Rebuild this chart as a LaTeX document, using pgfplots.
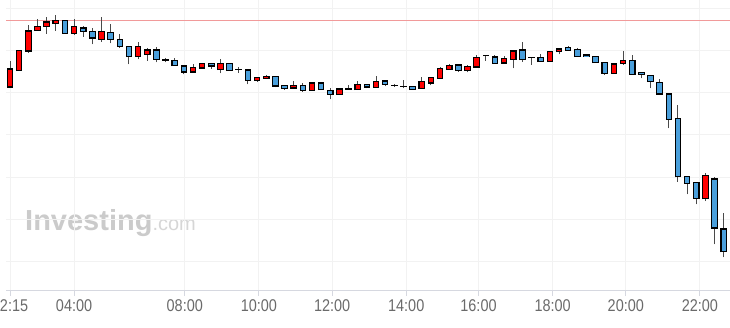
\documentclass[border=0pt]{standalone}
\usepackage{fontspec}
\setmainfont{Liberation Sans}
\newfontfamily\tickfont[FakeStretch=0.85]{Liberation Sans}
\usepackage{pgfplots}
\usepackage{pgfplotstable}
\pgfplotsset{compat=1.18}
\definecolor{upred}{HTML}{FF0000}
\definecolor{downblue}{HTML}{4A9FDB}
\definecolor{wick}{HTML}{4A4A4A}
\definecolor{refline}{HTML}{F19A9A}
\definecolor{gridc}{HTML}{F2F2F2}
\definecolor{axisc}{HTML}{D6D8E0}
\definecolor{labc}{HTML}{6A6A6A}
\definecolor{wm}{HTML}{CBCBCB}
\definecolor{wmb}{HTML}{D6D6D6}

% k = candle index (15-minute candles), o h l c = open high low close
\pgfplotstableread{
k  o     h     l     c
0  203   229   202   221
1  219.5 239.5 219   239.5
2  239   265   237   259
3  259.5 271   259   263.5
4  263.3 273.3 256   268
5  266.7 275   259.3 269.3
7  256.7 270.7 255   263.3
10 250.7 272.7 248   258.3
14 233.3 248.3 230.7 243.3
15 235.7 241.7 229.3 240
20 218   226   218   222.3
21 222   226.3 222   226.3
23 220.3 231   216.7 226.3
27 209.7 212.3 208.3 212.3
28 211.7 215   211.7 213.7
31 202   208.7 202   204.7
33 199.7 207   199.7 207
36 195.7 201   195   201
38 200.3 209.3 200.3 205.3
40 202.7 213.7 202.7 208.7
45 201.3 212.7 201.3 208.3
46 207   212.3 204.7 212.3
47 211.7 223.3 211.7 221.7
48 220.7 225.7 220.7 224.3
50 219.7 225   217.7 223.3
51 223   235   223   232.7
54 227   233.7 227   231.7
55 230.7 240.3 221.7 239
59 228.3 238.3 228.3 238.3
60 238.3 242.3 235.7 241
66 216.7 226   216.7 226
67 226.7 239   225.3 229.3
76 91.3  116.7 89    114.7
}\up

\pgfplotstableread{
k  o     h     l     c
6  269.7 270   256   256.7
8  262   264.3 253.3 258.7
9  258.3 262   245.7 252
11 257.3 266   246.7 250.7
12 250.7 256   242   243.3
13 243.3 243.3 225.7 233.3
16 240   242.7 227.7 230.7
17 230   232   227.7 230
18 229.7 232   224   224.3
19 224   224   215.7 218
22 226.3 226.3 221.3 224
24 226.3 226.3 219.3 219.3
25 220.7 223.3 217.3 220.7
26 220   220   205.7 209.3
29 213.7 213.7 202.7 204
30 204.7 204.7 200.3 201.3
32 204.7 206.7 198.3 199.7
34 207   207   200.3 200.3
35 199.7 201.7 190.7 195.7
37 201   205   201   201
39 205.7 205.7 201.7 203
41 209   209   203.7 205.7
42 204.7 206.3 203   204.7
43 203.7 210.3 201.7 203.7
44 203.3 204   200.3 200.3
49 225   225   218.3 219.3
52 234.5 235   229   234.5
53 233   235   226.7 226.7
56 240   247.7 228.3 230.3
57 232.3 232.7 225   232.3
58 232.3 236   228.3 228.3
61 242.3 244   239.7 239.7
62 240.3 241.7 233.3 233.3
63 235   236   233.7 233.7
64 233.7 233.7 227.3 227.3
65 227.3 227.3 215.3 216.7
68 229.3 235   215.7 215.7
69 217.7 217.7 211.7 215.7
70 214.7 214.7 201.7 208.3
71 207.3 211   195   196
72 196   196   161.7 170.7
73 171.7 185   108.3 113.3
74 113.3 113.3 95.7  106.7
75 107.3 107.3 85.7  91.7
77 111   113.3 45.7  62
78 61    77.3  32.7  38.3
79 94    96    30    32
}\down

\pgfplotsset{
  wickstyle/.style={draw=none, mark=none, forget plot,
    error bars/.cd, y dir=plus, y explicit, error mark=none,
    error bar style={draw=wick, line width=1pt}},
  bodystyle/.style={draw=none, mark=none, forget plot,
    error bars/.cd, y dir=plus, y explicit, error mark=none,
    error bar style={draw=#1}},
}

\begin{document}
\begin{tikzpicture}
\path[use as bounding box] (0,0) rectangle (730pt,327pt);
\node[anchor=base west, inner sep=0, text=wm, font=\bfseries\fontsize{29}{29}\selectfont] at (25pt,97pt)
  {Investing{\color{wmb}\mdseries\fontsize{20}{20}\selectfont.com}};
\begin{axis}[
  width=724pt, height=290pt, scale only axis,
  at={(6pt,37pt)}, anchor=south west,
  xmin=-0.44, xmax=78.69, ymin=0, ymax=290,
  axis x line*=bottom, axis y line*=left,
  x axis line style={draw=axisc, line width=1pt, -},
  y axis line style={draw=none},
  xtick={0,7,19.1,27.2,35.2,43.3,51.2,59.3,67.3,75.4},
  xticklabels={02:15,04:00,08:00,10:00,12:00,14:00,16:00,18:00,20:00,22:00},
  ytick={29,71,113,155,197,239,281}, yticklabels={},
  tick align=outside, major tick length=6pt,
  xtick style={draw=axisc, line width=1pt},
  ytick style={draw=none},
  grid=major, major grid style={draw=gridc, line width=1pt},
  xticklabel style={font=\tickfont\fontsize{17}{17}\selectfont, text=labc},
]
% previous close reference line
\addplot[refline, line width=1pt, forget plot] coordinates {(-1,269) (80,269)};

% wicks
\addplot[wickstyle] table[x=k, y=l, y error plus expr=\thisrow{h}-\thisrow{l}] {\up};
\addplot[wickstyle] table[x=k, y=l, y error plus expr=\thisrow{h}-\thisrow{l}] {\down};

% body outlines
\addplot[bodystyle={black, line width=6.6pt}]
  table[x=k, y expr={min(\thisrow{o},\thisrow{c})-0.55}, y error plus expr={abs(\thisrow{c}-\thisrow{o})+1.1}] {\up};
\addplot[bodystyle={black, line width=6.6pt}]
  table[x=k, y expr={min(\thisrow{o},\thisrow{c})-0.55}, y error plus expr={abs(\thisrow{c}-\thisrow{o})+1.1}] {\down};

% body fills
\addplot[bodystyle={upred, line width=4.4pt}]
  table[x=k, y expr={min(\thisrow{o},\thisrow{c})+0.55}, y error plus expr={max(abs(\thisrow{c}-\thisrow{o})-1.1,0)}] {\up};
\addplot[bodystyle={downblue, line width=4.4pt}]
  table[x=k, y expr={min(\thisrow{o},\thisrow{c})+0.55}, y error plus expr={max(abs(\thisrow{c}-\thisrow{o})-1.1,0)}] {\down};
\end{axis}
\end{tikzpicture}
\end{document}
